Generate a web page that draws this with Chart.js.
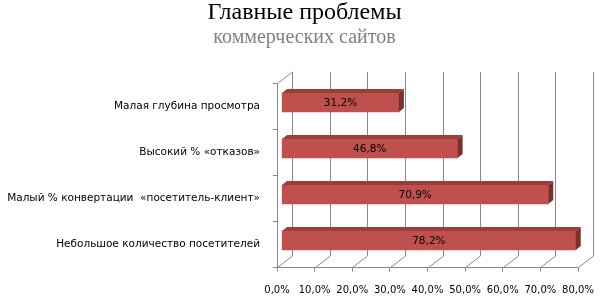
<!DOCTYPE html>
<html lang="ru">
<head>
  <meta charset="UTF-8">
  <title>Главные проблемы коммерческих сайтов</title>
  <script src="https://cdn.jsdelivr.net/npm/chart.js"></script>
  <style>
    html, body { margin: 0; padding: 0; background: white; }
    #wrap { width: 609px; height: 304px; position: relative; }
  </style>
</head>
<body>
<div id="wrap"><canvas id="chart"></canvas></div>
<script>
  // данные
  const categories = [
    'Малая глубина просмотра',
    'Высокий % «отказов»',
    'Малый % конвертации  «посетитель-клиент»',
    'Небольшое количество посетителей'
  ];
  const values = [31.2, 46.8, 70.9, 78.2];
  const axisMin = 0;
  const axisMax = 80;
  const axisStep = 10;

  const fmt = v => v.toFixed(1).replace('.', ',') + '%';

  // глубина "3D" стенок и столбиков
  const wallDx = 15, wallDy = -11.5;
  const barShiftX = 4.5, barShiftY = -4;
  const barDx = 5, barDy = -4;
  const gridColor = '#888888';

  const fake3d = {
    id: 'fake3d',
    beforeDatasetsDraw(chart) {
      const ctx = chart.ctx;
      const area = chart.chartArea;
      const xs = chart.scales.x;
      ctx.save();
      ctx.strokeStyle = gridColor;
      ctx.lineWidth = 1;
      ctx.beginPath();
      for (let v = axisMin; v <= axisMax; v += axisStep) {
        const px = Math.round(xs.getPixelForValue(v)) + 0.5;
        // задняя стенка
        ctx.moveTo(px + wallDx, area.top + wallDy);
        ctx.lineTo(px + wallDx, area.bottom + wallDy);
        // пол
        ctx.lineTo(px, area.bottom);
      }
      // боковая стенка, верхний край
      const lx = Math.round(area.left) + 0.5;
      ctx.moveTo(lx, area.top);
      ctx.lineTo(lx + wallDx, area.top + wallDy);
      ctx.stroke();
      ctx.restore();

      ctx.save();
      ctx.translate(barShiftX, barShiftY);
    },
    afterDatasetsDraw(chart) {
      const ctx = chart.ctx;
      const meta = chart.getDatasetMeta(0);
      meta.data.forEach((bar, i) => {
        const p = bar.getProps(['x', 'y', 'base', 'height'], true);
        const top = p.y - p.height / 2;
        const bottom = p.y + p.height / 2;
        // верхняя грань
        ctx.fillStyle = '#9a3d3b';
        ctx.beginPath();
        ctx.moveTo(p.base, top);
        ctx.lineTo(p.x, top);
        ctx.lineTo(p.x + barDx, top + barDy);
        ctx.lineTo(p.base + barDx, top + barDy);
        ctx.closePath();
        ctx.fill();
        // торец
        ctx.fillStyle = '#7b302e';
        ctx.beginPath();
        ctx.moveTo(p.x, top);
        ctx.lineTo(p.x + barDx, top + barDy);
        ctx.lineTo(p.x + barDx, bottom + barDy);
        ctx.lineTo(p.x, bottom);
        ctx.closePath();
        ctx.fill();
        // подпись значения
        ctx.fillStyle = '#000';
        ctx.font = '10.5px "DejaVu Sans"';
        ctx.textAlign = 'center';
        ctx.textBaseline = 'middle';
        ctx.fillText(fmt(values[i]), (p.base + p.x) / 2, p.y + 1);
      });
      ctx.restore();
    }
  };

  new Chart(document.getElementById('chart'), {
    type: 'bar',
    data: {
      labels: categories,
      datasets: [{
        data: values,
        backgroundColor: '#c0504d',
        borderWidth: 0,
        barThickness: 19
      }]
    },
    options: {
      indexAxis: 'y',
      responsive: true,
      maintainAspectRatio: false,
      animation: false,
      layout: { padding: 0 },
      plugins: {
        legend: { display: false },
        tooltip: { enabled: false },
        title: {
          display: true,
          text: 'Главные проблемы',
          color: '#000',
          font: { family: '"Liberation Serif"', size: 24, weight: 'normal', lineHeight: 1 },
          padding: { top: 1, bottom: 3 }
        },
        subtitle: {
          display: true,
          text: 'коммерческих сайтов',
          color: '#808080',
          font: { family: '"Liberation Serif"', size: 20, weight: 'normal', lineHeight: 1 },
          padding: { top: 0, bottom: 35.5 }
        }
      },
      scales: {
        x: {
          min: axisMin,
          max: axisMax,
          ticks: {
            stepSize: axisStep,
            color: '#000',
            font: { family: '"DejaVu Sans"', size: 10 },
            padding: 13,
            callback: v => fmt(v)
          },
          grid: { drawOnChartArea: false, tickLength: 4, color: gridColor },
          border: { display: true, color: gridColor },
          afterFit(scale) {
            scale.height = 36.5;
            scale.paddingRight = 31;
          }
        },
        y: {
          ticks: {
            color: '#000',
            font: { family: '"DejaVu Sans"', size: 10.5 },
            padding: 13
          },
          grid: { drawOnChartArea: false, offset: true, tickLength: 4, color: gridColor },
          border: { display: true, color: gridColor },
          afterFit(scale) {
            scale.width = 277;
            scale.paddingTop = 0;
            scale.paddingBottom = 0;
          }
        }
      }
    },
    plugins: [fake3d]
  });
</script>
</body>
</html>
